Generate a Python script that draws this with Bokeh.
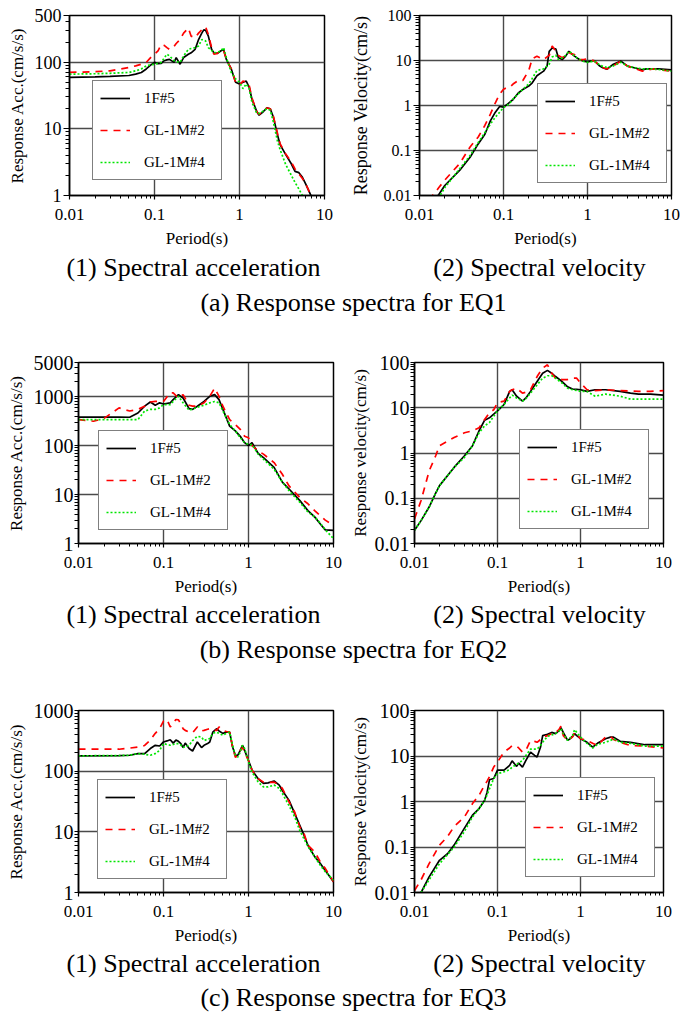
from bokeh.plotting import figure
from bokeh.layouts import column, row
from bokeh.models import FixedTicker, CustomJSTickFormatter, Legend, LegendItem, Range1d, Label
from bokeh.embed import file_html
from bokeh.resources import INLINE

FONT = "Liberation Serif"
SERIES = ["1F#5", "GL-1M#2", "GL-1M#4"]
COLORS = ["#000000", "#ff0000", "#00e600"]
DASHES = ["solid", "7 6", "2 2"]

# ---------------- EQ1 : spectral acceleration ----------------
eq1_acc_T = [0.01, 0.02, 0.03, 0.05, 0.06, 0.07, 0.08, 0.09, 0.1, 0.11, 0.12, 0.13, 0.14, 0.15, 0.17, 0.18,
             0.2, 0.22, 0.25, 0.27, 0.3, 0.33, 0.36, 0.38, 0.4, 0.43, 0.47, 0.5, 0.55, 0.6, 0.65, 0.7, 0.8,
             0.9, 1.0, 1.1, 1.2, 1.3, 1.4, 1.6, 1.7, 1.9, 2.1, 2.3, 2.5, 2.8, 3.0, 3.5, 4.0, 4.5, 5.0, 5.5,
             6.0, 6.5, 7.0, 8.0]
eq1_acc_1f5 = [59, 60, 61, 63, 66, 70, 79, 90, 99, 95, 96, 105, 108, 110, 99, 117, 93, 117, 131, 138, 155,
               218, 272, 305, 300, 245, 155, 138, 135, 147, 155, 110, 79, 50, 47, 50, 52, 42, 28, 18, 16, 18,
               20.6, 20, 15, 8.1, 5.8, 4.1, 3.1, 2.3, 2.2, 1.87, 1.49, 1.19, 0.97, 0.7]
eq1_acc_gl2 = [70, 72, 74, 83, 88, 93, 99, 117, 131, 147, 184, 178, 165, 155, 173, 190, 218, 272, 324, 245,
               232, 272, 305, 320, 337, 258, 165, 131, 135, 147, 150, 110, 79, 50, 45, 52, 50, 45, 29, 18,
               16.5, 18.5, 20.5, 20, 15.5, 8.5, 6.0, 4.2, 3.3, 2.5, 2.1, 1.8, 1.5, 1.2, 0.97, 0.7]
eq1_acc_gl4 = [66, 67, 68, 70, 74, 79, 88, 91, 93, 96, 99, 115, 131, 124, 105, 102, 99, 124, 155, 160, 165,
               175, 218, 215, 207, 165, 150, 138, 140, 147, 165, 117, 70, 56, 50, 40, 47, 40, 25, 17, 17,
               18.5, 20, 19, 12.8, 6.5, 4.9, 2.9, 2.1, 1.57, 1.25, 1.0, 0.85, 0.75, 0.65, 0.5]

# ---------------- EQ1 : spectral velocity ----------------
eq1_vel_T = [0.01, 0.015, 0.017, 0.02, 0.03, 0.04, 0.05, 0.06, 0.07, 0.08, 0.09, 0.1, 0.11, 0.12, 0.13,
             0.15, 0.17, 0.2, 0.22, 0.25, 0.3, 0.33, 0.35, 0.38, 0.42, 0.45, 0.5, 0.55, 0.6, 0.65, 0.7, 0.8,
             0.9, 1.0, 1.1, 1.2, 1.4, 1.5, 1.7, 2.0, 2.5, 3.0, 3.5, 4.5, 5.0, 6.0, 7.0, 10.0]
eq1_vel_1f5 = [0.004, 0.008, 0.0105, 0.0167, 0.036, 0.071, 0.14, 0.23, 0.46, 0.71, 0.95, 0.92, 1.05, 1.2,
               1.36, 1.9, 2.27, 2.7, 3.2, 4.6, 5.8, 7.5, 16, 19, 18, 11.5, 10.5, 12.5, 16, 14, 12.5, 10.5,
               9.7, 9.3, 9.7, 10, 7.5, 7.0, 6.4, 8.1, 9.7, 7.5, 7.0, 6.2, 6.5, 6.5, 6.5, 6.2]
eq1_vel_gl2 = [0.005, 0.011, 0.015, 0.022, 0.051, 0.12, 0.2, 0.36, 0.65, 1.15, 1.8, 2.3, 2.5, 2.6, 3.0,
               3.6, 3.6, 6.0, 11, 12.5, 10.5, 12, 13, 21, 16, 13, 11.5, 13, 15, 14, 13.5, 10.5, 10.5, 11,
               10.5, 9.7, 7.8, 7.0, 6.5, 7.5, 9.7, 7.5, 6.8, 5.8, 6.0, 6.5, 6.2, 5.8]
eq1_vel_gl4 = [0.003, 0.007, 0.009, 0.015, 0.039, 0.077, 0.15, 0.25, 0.39, 0.55, 0.71, 0.9, 1.0, 1.15,
               1.4, 1.8, 2.3, 3.0, 4.0, 6.0, 6.5, 7.5, 8.3, 12, 13, 10.5, 11.5, 13, 16, 14.5, 12.5, 10.5,
               9.5, 9.1, 9.4, 9.7, 8.0, 7.5, 7.0, 7.5, 9.1, 7.5, 7.0, 6.5, 6.5, 6.5, 6.3, 5.8]

# ---------------- EQ2 : spectral acceleration ----------------
eq2_acc_T = [0.01, 0.015, 0.02, 0.03, 0.04, 0.05, 0.06, 0.07, 0.08, 0.09, 0.1, 0.12, 0.13, 0.15, 0.17,
             0.2, 0.22, 0.25, 0.3, 0.35, 0.4, 0.45, 0.5, 0.6, 0.7, 0.8, 0.9, 1.0, 1.1, 1.3, 1.5, 2.0, 2.5,
             3.0, 4.0, 5.0, 6.0, 7.0, 8.0, 10.0]
eq2_acc_1f5 = [382, 382, 382, 382, 380, 465, 640, 780, 670, 750, 710, 750, 870, 1100, 940, 570, 550, 640,
               800, 1020, 1100, 870, 550, 250, 200, 155, 115, 100, 115, 69, 57, 36, 18, 13, 7.6, 4.7, 3.5,
               2.5, 1.9, 1.86]
eq2_acc_gl2 = [340, 315, 360, 590, 510, 550, 640, 780, 800, 800, 800, 1200, 1200, 940, 1100, 670, 640,
               640, 750, 1020, 1500, 1020, 640, 340, 270, 215, 155, 145, 100, 78, 67, 45, 26, 15, 8.8, 6.5,
               4.7, 3.7, 3.0, 2.35]
eq2_acc_gl4 = [340, 340, 340, 340, 340, 340, 510, 550, 550, 590, 690, 690, 800, 1020, 750, 530, 560, 610,
               670, 750, 800, 750, 510, 270, 200, 145, 115, 105, 105, 67, 53, 33, 18, 12, 7.0, 4.4, 3.5,
               2.6, 1.9, 1.26]

# ---------------- EQ2 : spectral velocity ----------------
eq2_vel_T = [0.01, 0.012, 0.015, 0.018, 0.02, 0.03, 0.04, 0.05, 0.06, 0.07, 0.08, 0.09, 0.1, 0.12, 0.14,
             0.15, 0.17, 0.2, 0.22, 0.25, 0.3, 0.35, 0.4, 0.45, 0.5, 0.6, 0.7, 0.8, 0.9, 1.0, 1.2, 1.5,
             2.0, 3.0, 4.0, 5.0, 7.0, 10.0]
eq2_vel_1f5 = [0.0196, 0.032, 0.064, 0.13, 0.19, 0.48, 0.87, 1.45, 3.1, 5.3, 6.0, 7.2, 8.5, 11.8, 23, 25,
               18, 14, 16.5, 23, 38, 58, 67, 58, 49, 38, 29, 26, 25.5, 25, 23, 25, 25, 23, 21, 20, 20, 19]
eq2_vel_gl2 = [0.035, 0.089, 0.4, 0.87, 1.45, 2.2, 2.8, 3.1, 3.6, 5.5, 7.8, 9, 13, 14, 23, 25, 27, 21, 22,
               25, 49, 75, 89, 58, 45, 42, 42, 45, 45, 35, 25, 24, 25, 24, 23.5, 23, 23, 24]
eq2_vel_gl4 = [0.0196, 0.032, 0.064, 0.13, 0.19, 0.48, 0.8, 1.45, 2.8, 4.0, 4.7, 6.5, 8.5, 11.8, 16.5, 19,
               16.5, 14, 16, 21, 32, 45, 51, 51, 45, 35, 27, 25, 24, 23, 23, 18, 20, 18, 15.5, 15.5, 15.5,
               15.5]

# ---------------- EQ3 : spectral acceleration ----------------
eq3_acc_T = [0.01, 0.03, 0.04, 0.05, 0.06, 0.07, 0.08, 0.09, 0.1, 0.11, 0.12, 0.13, 0.14, 0.15, 0.16,
             0.17, 0.18, 0.2, 0.22, 0.25, 0.28, 0.3, 0.33, 0.35, 0.38, 0.42, 0.45, 0.5, 0.55, 0.6, 0.65,
             0.7, 0.75, 0.8, 0.85, 0.9, 1.0, 1.1, 1.3, 1.5, 1.7, 2.0, 2.3, 2.5, 3.0, 3.5, 4.0, 4.5, 5.0,
             6.0, 7.0, 8.0, 10.0]
eq3_acc_1f5 = [179, 181, 183, 195, 195, 236, 267, 260, 303, 315, 330, 290, 325, 310, 285, 245, 290, 236,
               215, 303, 245, 267, 285, 303, 440, 500, 460, 420, 440, 440, 250, 183, 183, 220, 267, 220,
               150, 104, 75, 63, 64, 69, 59, 48, 33, 20, 12.9, 8.8, 6.0, 3.9, 3.0, 2.3, 1.5]
eq3_acc_gl2 = [230, 230, 240, 250, 265, 325, 420, 500, 670, 710, 535, 615, 710, 700, 600, 500, 470, 440,
               430, 535, 460, 470, 490, 500, 480, 470, 535, 470, 450, 440, 250, 170, 180, 220, 245, 207,
               150, 104, 75, 66, 65, 66, 59, 52, 31, 21, 12.1, 9.4, 6.0, 4.7, 3.2, 2.5, 1.5]
eq3_acc_gl4 = [179, 181, 183, 195, 190, 183, 195, 220, 285, 275, 267, 275, 285, 285, 270, 245, 255, 267,
               320, 375, 365, 320, 335, 345, 420, 440, 420, 390, 420, 440, 267, 183, 170, 207, 267, 236,
               142, 97, 66, 55, 55, 59, 52, 43, 27, 17.6, 10.6, 7.7, 5.7, 3.9, 2.8, 2.2, 1.6]

# ---------------- EQ3 : spectral velocity ----------------
eq3_vel_T = [0.01, 0.012, 0.015, 0.02, 0.025, 0.03, 0.04, 0.05, 0.06, 0.07, 0.075, 0.08, 0.09, 0.1, 0.12,
             0.14, 0.15, 0.17, 0.18, 0.2, 0.22, 0.25, 0.28, 0.3, 0.33, 0.35, 0.4, 0.45, 0.5, 0.55, 0.58,
             0.62, 0.7, 0.75, 0.8, 0.85, 0.9, 1.0, 1.2, 1.4, 1.6, 2.0, 2.3, 2.5, 3.0, 4.0, 6.0, 10.0]
eq3_vel_1f5 = [0.006, 0.01, 0.022, 0.051, 0.071, 0.11, 0.26, 0.5, 0.7, 1.07, 1.6, 3.0, 3.2, 4.9, 4.9, 6.2,
               7.8, 5.9, 7.0, 5.7, 8.0, 12.2, 10.3, 9.5, 15.7, 28, 30, 33, 31, 36, 42, 33, 22, 24, 27, 31,
               28, 24, 20, 15.7, 19, 24, 26, 26, 21, 20, 17.7, 17.7]
eq3_vel_gl2 = [0.011, 0.019, 0.043, 0.11, 0.17, 0.28, 0.46, 0.9, 1.37, 2.3, 2.8, 3.5, 5.7, 7.4, 12.2, 15,
               17, 16.5, 15, 12.2, 13.3, 22, 21, 20, 23, 26, 28, 31, 33, 38, 45, 28, 22, 24, 26, 33, 30,
               24, 22, 19, 17, 26, 27, 23, 20, 17, 16.5, 15]
eq3_vel_gl4 = [0.006, 0.01, 0.019, 0.043, 0.068, 0.1, 0.22, 0.46, 0.7, 1.07, 1.4, 1.9, 3.2, 4.1, 4.5, 5.0,
               5.7, 6.5, 7.0, 8.0, 10.3, 14.2, 14.2, 14.2, 17, 20, 27, 29, 31, 35, 40, 31, 22, 25, 28, 38,
               33, 26, 19, 15, 18, 20, 22, 24, 20, 19, 16.5, 16.5]

# ---------------- axis ticks / labels ----------------
x_major = [0.01, 0.1, 1, 10]
acc1_major = [1, 10, 100, 500]
acc2_major = [1, 10, 100, 1000, 5000]
acc3_major = [1, 10, 100, 1000]
vel_major = [0.01, 0.1, 1, 10, 100]
acc_label = "Response Acc.(cm/s/s)"
vel_label = "Response Velocity(cm/s)"
vel_label_eq2 = "Response velocity(cm/s)"
x_label = "Period(s)"
sub_acc = "(1) Spectral acceleration"
sub_vel = "(2) Spectral velocity"
captions = ["(a) Response spectra for EQ1", "(b) Response spectra for EQ2", "(c) Response spectra for EQ3"]


def minor_ticks(lo, hi):
    out = []
    e = -2
    while 10.0 ** e < hi:
        for m in range(2, 10):
            v = m * 10.0 ** e
            if lo < v < hi:
                out.append(v)
        e += 1
    return out


def panel(T, ys, ylo, yhi, ymaj, ylabel, w, h, bl, br, bt, bb, leg,
          ytick_size="17px", ylab_size="17px", ytick_out=6, ystand=2, ylab_stand=5):
    p = figure(width=w, height=h, x_axis_type="log", y_axis_type="log",
               x_range=Range1d(0.01, 10), y_range=Range1d(ylo, yhi),
               output_backend="svg", toolbar_location=None,
               min_border_left=bl, min_border_right=br, min_border_top=bt, min_border_bottom=bb)
    p.outline_line_color = "black"
    p.outline_line_width = 1.5
    p.background_fill_color = "white"
    p.border_fill_color = "white"

    xt = FixedTicker(ticks=x_major, minor_ticks=minor_ticks(0.01, 10))
    yt = FixedTicker(ticks=ymaj, minor_ticks=minor_ticks(ylo, yhi))
    p.xaxis.ticker = xt
    p.yaxis.ticker = yt
    p.xgrid.ticker = xt
    p.ygrid.ticker = yt
    for g in (p.xgrid[0], p.ygrid[0]):
        g.grid_line_color = "#4a4a4a"
        g.grid_line_width = 1.4

    for ax in (p.xaxis[0], p.yaxis[0]):
        ax.formatter = CustomJSTickFormatter(code="return String(tick);")
        ax.axis_line_color = "black"
        ax.axis_line_width = 1.5
        ax.major_tick_line_color = "black"
        ax.minor_tick_line_color = "black"
        ax.major_tick_line_width = 1.2
        ax.minor_tick_line_width = 1
        ax.major_tick_in = 0
        ax.minor_tick_in = 0
        ax.major_label_text_font = FONT
        ax.major_label_text_color = "black"
        ax.axis_label_text_font = FONT
        ax.axis_label_text_font_style = "normal"
        ax.axis_label_text_color = "black"

    xa = p.xaxis[0]
    xa.major_tick_out = 4
    xa.minor_tick_out = 3
    xa.major_label_text_font_size = "17px"
    xa.major_label_standoff = 9
    xa.axis_label = x_label
    xa.axis_label_text_font_size = "17px"
    xa.axis_label_standoff = 6

    ya = p.yaxis[0]
    ya.major_tick_out = ytick_out
    ya.minor_tick_out = 4
    ya.major_label_text_font_size = ytick_size
    ya.major_label_standoff = ystand
    ya.axis_label = ylabel
    ya.axis_label_text_font_size = ylab_size
    ya.axis_label_standoff = ylab_stand

    rs = []
    for y, c, d in zip(ys, COLORS, DASHES):
        rs.append(p.line(T, y, line_color=c, line_width=1.7, line_dash=d))

    lg = Legend(items=[LegendItem(label=s, renderers=[r]) for s, r in zip(SERIES, rs)],
                location=leg, border_line_color="black", border_line_width=1.5,
                background_fill_color="white", background_fill_alpha=1.0,
                label_text_font=FONT, label_text_font_size="15px", label_text_color="black",
                glyph_width=30, glyph_height=20, label_height=20, label_width=70,
                label_standoff=14, spacing=12, padding=7, margin=0)
    p.add_layout(lg)
    return p


def caption(h, items):
    c = figure(width=695, height=h, x_range=Range1d(0, 695), y_range=Range1d(0, h),
               output_backend="svg", toolbar_location=None, min_border=0,
               x_axis_location=None, y_axis_location=None)
    c.outline_line_color = None
    c.grid.visible = False
    for x, y, t in items:
        c.add_layout(Label(x=x, y=y, text=t, text_font=FONT, text_font_size="26px",
                           text_color="black", text_align="center", text_baseline="middle"))
    return c


p1 = panel(eq1_acc_T, [eq1_acc_1f5, eq1_acc_gl2, eq1_acc_gl4], 1, 500, acc1_major, acc_label,
           347, 250, 69, 23, 11, 55, (23, 15), ytick_size="18px")
p2 = panel(eq1_vel_T, [eq1_vel_1f5, eq1_vel_gl2, eq1_vel_gl4], 0.01, 100, vel_major, vel_label,
           348, 250, 68, 24, 15, 55, (118, 12), ytick_size="16px", ylab_size="18px", ylab_stand=10)
cap1 = caption(80, [(193, 63, sub_acc), (539, 63, sub_vel), (353, 28, captions[0])])

p3 = panel(eq2_acc_T, [eq2_acc_1f5, eq2_acc_gl2, eq2_acc_gl4], 1, 5000, acc2_major, acc_label,
           347, 268, 78, 14, 32, 55, (20, 13), ytick_size="20px", ytick_out=4, ystand=1)
p4 = panel(eq2_vel_T, [eq2_vel_1f5, eq2_vel_gl2, eq2_vel_gl4], 0.01, 100, vel_major, vel_label_eq2,
           348, 268, 61, 32, 31, 55, (105, 14), ytick_size="20px", ylab_size="17px", ytick_out=4,
           ystand=1, ylab_stand=2)
cap2 = caption(72, [(193, 56, sub_acc), (539, 56, sub_vel), (353, 21, captions[1])])

p5 = panel(eq3_acc_T, [eq3_acc_1f5, eq3_acc_gl2, eq3_acc_gl4], 1, 1000, acc3_major, acc_label,
           347, 278, 78, 14, 40, 56, (19, 13), ytick_size="20px", ytick_out=4, ystand=1)
p6 = panel(eq3_vel_T, [eq3_vel_1f5, eq3_vel_gl2, eq3_vel_gl4], 0.01, 100, vel_major, vel_label,
           348, 278, 61, 32, 40, 56, (111, 15), ytick_size="20px", ylab_size="17px", ytick_out=4,
           ystand=1, ylab_stand=2)
cap3 = caption(67, [(193, 52, sub_acc), (539, 52, sub_vel), (353, 18, captions[2])])

layout = column(row(p1, p2), cap1, row(p3, p4), cap2, row(p5, p6), cap3)

with open("out.html", "w") as f:
    f.write(file_html(layout, INLINE))
